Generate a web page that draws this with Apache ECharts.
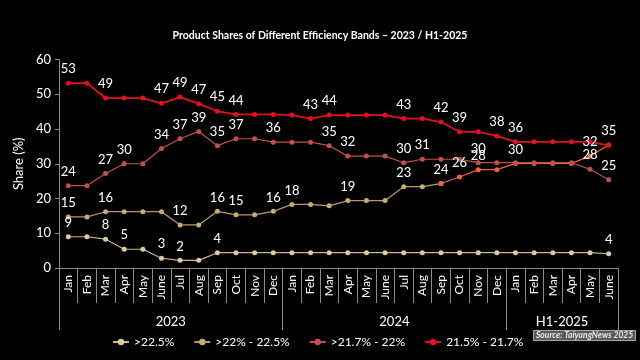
<!DOCTYPE html>
<html>
<head>
<meta charset="utf-8">
<script src="https://cdn.jsdelivr.net/npm/echarts@6/dist/echarts.min.js"></script>
<style>html,body{margin:0;padding:0;background:#000;}#c{width:640px;height:360px;}</style>
</head>
<body>
<div id="c"></div>
<script>
const months = ['Jan','Feb','Mar','Apr','May','June','Jul','Aug','Sep','Oct','Nov','Dec',
                'Jan','Feb','Mar','Apr','May','June','Jul','Aug','Sep','Oct','Nov','Dec',
                'Jan','Feb','Mar','Apr','May','June'];
const yearLabels = {6: '2023', 18: '2024', 27: 'H1-2025'};
const yearBoundaries = [0, 12, 24];
const seriesNames = ['>22.5%', '>22% - 22.5%', '>21.7% - 22%', '21.5% - 21.7%'];

// >22.5%
const band1 = [9, 9, 8.3, 5.4, 5.4, 2.8, 2.2, 2.2, 4.4, 4.4, 4.4, 4.4,
               4.4, 4.4, 4.4, 4.4, 4.4, 4.4, 4.4, 4.4, 4.4, 4.4, 4.4, 4.4,
               4.4, 4.4, 4.4, 4.4, 4.4, 4.1];
const band1Labels = [0, 2, 3, 5, 6, 8, 29];
// >22% - 22.5%  (line drawn gold up to Sep 2024, orange afterwards)
const band2 = [14.7, 14.7, 16.2, 16.2, 16.2, 16.2, 12.4, 12.4, 16.3, 15.3, 15.3, 16.3,
               18.3, 18.3, 17.9, 19.4, 19.4, 19.4, 23.4, 23.4, 24.3, 26.2, 28.3, 28.3,
               30.1, 30.1, 30.1, 30.1, 32.2, 35.4];
const band2Labels = [0, 2, 6, 8, 9, 11, 12, 15, 18, 20, 21, 22, 24, 28, 29];
const band2ColorSwitch = 20;
// >21.7% - 22%
const band3 = [23.7, 23.7, 27.2, 30, 30, 34.4, 37.2, 39.3, 35.2, 37.2, 37.2, 36.2,
               36.2, 36.2, 35.2, 32.2, 32.2, 32.2, 30.3, 31.3, 31.3, 31.3, 30.3, 30.3,
               30.3, 30.3, 30.3, 30.3, 28.4, 25.4];
const band3Labels = [0, 2, 3, 5, 6, 7, 8, 9, 11, 14, 15, 18, 19, 22, 28, 29];
// 21.5% - 21.7%
const band4 = [53.2, 53.2, 48.9, 48.9, 48.9, 47.4, 49.2, 47.3, 45.1, 44.2, 44.2, 44.2,
               44, 43, 44, 44, 44, 44, 43, 43, 42, 39.2, 39.2, 38,
               36.3, 36.3, 36.3, 36.3, 36.3, 35.3];
const band4Labels = [0, 2, 5, 6, 7, 8, 9, 13, 14, 18, 20, 21, 23, 24];

function withLabels(vals, idx, from, to, labelFrom) {
  return vals.map((v, i) => {
    if (i < from || i > to) return { value: null };
    return { value: v, label: { show: idx.indexOf(i) >= 0 && i >= labelFrom } };
  });
}
const font = 'Lato, "Open Sans", sans-serif';
const labelStyle = { position: 'top', color: '#fff', fontSize: 13, fontFamily: font,
  formatter: p => Math.round(p.value) };

function mkSeries(name, data, color, mcolor, width) {
  return {
    name: name, type: 'line', data: data,
    symbol: 'circle', symbolSize: 5, connectNulls: false,
    lineStyle: { color: color, width: width },
    itemStyle: { color: mcolor },
    label: labelStyle, z: 3
  };
}
const N = months.length - 1;

const option = {
  backgroundColor: '#000',
  animation: false,
  title: [{
    text: 'Product Shares of Different Efficiency Bands \u2013 2023 / H1-2025',
    left: 'center', top: 25,
    textStyle: { color: '#fff', fontSize: 10.5, fontWeight: 'bold', fontFamily: font }
  }, {
    text: 'Source: TaiyangNews 2025',
    left: 533, top: 330,
    backgroundColor: '#595959', borderColor: '#a6a6a6', borderWidth: 1, padding: [1, 3],
    textStyle: { color: '#e8e8e8', fontSize: 8.5, fontStyle: 'italic', fontWeight: 'bold', fontFamily: font }
  }],
  grid: { left: 59, right: 22, top: 59.5, bottom: 92, containLabel: false },
  legend: {
    data: seriesNames, left: 107, top: 331, itemGap: 19, itemWidth: 16, itemHeight: 8,
    textStyle: { color: '#fff', fontSize: 12, fontFamily: font }
  },
  xAxis: [{
    type: 'category', data: months, position: 'bottom',
    axisLine: { show: true, lineStyle: { color: '#8c8c8c' } },
    axisTick: { show: true, interval: 0, length: 35, lineStyle: { color: '#8c8c8c', width: 1 } },
    axisLabel: { interval: 0, rotate: 90, margin: 7, color: '#fff', fontSize: 12, fontFamily: font }
  }, {
    type: 'category', data: months, position: 'bottom',
    axisLine: { show: false },
    axisTick: { show: true, interval: i => yearBoundaries.indexOf(i) >= 0, length: 62,
      lineStyle: { color: '#8c8c8c', width: 1 } },
    axisLabel: { show: false }
  }, {
    type: 'value', min: 0, max: 30, interval: 3, position: 'bottom',
    axisLine: { show: false }, axisTick: { show: false }, splitLine: { show: false },
    axisLabel: { margin: 47, color: '#fff', fontSize: 13, fontFamily: font,
      formatter: v => yearLabels[v] || '' }
  }],
  yAxis: {
    type: 'value', min: 0, max: 60, interval: 10,
    name: 'Share (%)', nameLocation: 'middle', nameGap: 33,
    nameTextStyle: { color: '#fff', fontSize: 13, fontFamily: font },
    axisLine: { show: true, lineStyle: { color: '#8c8c8c' } },
    axisTick: { show: true, length: 4, lineStyle: { color: '#8c8c8c' } },
    splitLine: { show: false },
    axisLabel: { color: '#fff', fontSize: 13, fontFamily: font, margin: 8 }
  },
  series: [
    mkSeries(seriesNames[0], withLabels(band1, band1Labels, 0, N, 0), '#c9b68f', '#dccaa0', 1.2),
    mkSeries(seriesNames[1], withLabels(band2, band2Labels, 0, band2ColorSwitch, 0), '#b49c5e', '#c4ad70', 1.2),
    mkSeries(seriesNames[1], withLabels(band2, band2Labels, band2ColorSwitch, N, band2ColorSwitch + 1), '#f2603f', '#f2603f', 1.2),
    mkSeries(seriesNames[2], withLabels(band3, band3Labels, 0, N, 0), '#c0504d', '#c0504d', 1.2),
    mkSeries(seriesNames[3], withLabels(band4, band4Labels, 0, N, 0), '#e3101e', '#e3101e', 1.8)
  ]
};

const chart = echarts.init(document.getElementById('c'), null, { renderer: 'canvas' });
chart.setOption(option);
if (document.fonts && document.fonts.ready) {
  document.fonts.ready.then(() => { chart.setOption(option, true); });
}
</script>
</body>
</html>
